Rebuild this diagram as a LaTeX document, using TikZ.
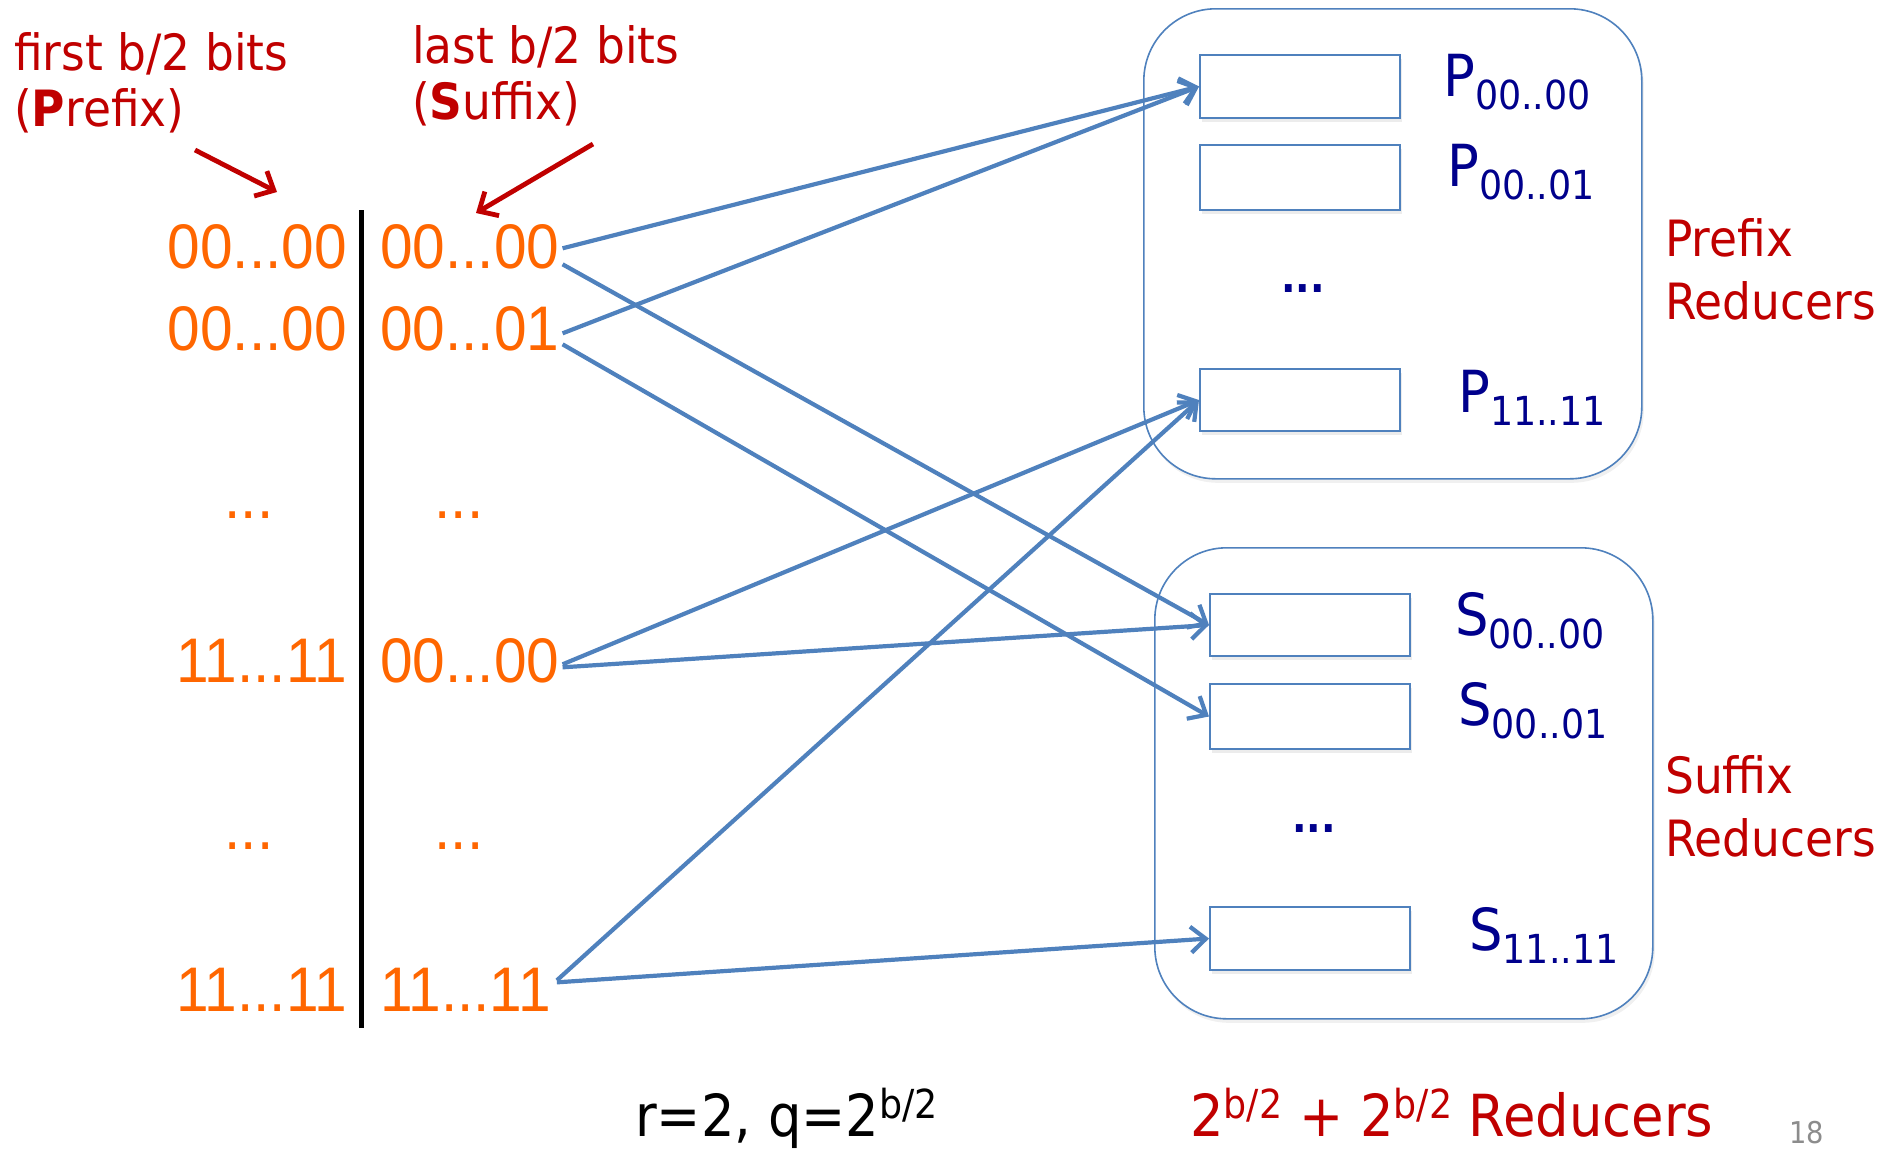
\documentclass[tikz,border=0pt]{standalone}
\usepackage{fontspec}
\setmainfont{DejaVu Sans}
\newfontfamily\bitsfont{Liberation Sans}[FakeStretch=0.93]
\newfontfamily\slidefont{DejaVu Sans}[FakeStretch=0.91]
\usetikzlibrary{arrows.meta,shadows}
\definecolor{bitorange}{HTML}{FF6600}
\definecolor{labelred}{HTML}{C00000}
\definecolor{linkblue}{HTML}{4F81BD}
\definecolor{regnavy}{HTML}{00008C}
\definecolor{pagegray}{HTML}{8C8C8C}
% lowered index of a reducer name, raised exponent
\newcommand\lowidx[1]{\raisebox{-13pt}{\fontsize{40}{42}\selectfont #1}}
\newcommand\upidx[1]{\raisebox{18pt}{\fontsize{40}{42}\selectfont #1}}
\begin{document}
\begin{tikzpicture}[x=1pt,y=-1pt,
  bits/.style={font=\bitsfont\fontsize{63}{70}\selectfont, text=bitorange, inner sep=0pt},
  note/.style={font=\slidefont\fontsize{50}{56}\selectfont, text=labelred, align=left, inner sep=0pt, anchor=north west},
  sidenote/.style={note, font=\slidefont\fontsize{50}{63}\selectfont},
  regname/.style={font=\slidefont\fontsize{58}{60}\selectfont, text=regnavy, inner sep=0pt, anchor=base west},
  regdots/.style={font=\slidefont\bfseries\fontsize{42}{42}\selectfont, text=regnavy, inner sep=0pt, anchor=base},
  group/.style={draw=linkblue, line width=1.6pt, fill=white, rounded corners=72pt, inner sep=0pt, anchor=north west,
    minimum width=498pt, drop shadow={opacity=0.12, shadow xshift=2pt, shadow yshift=-4pt}},
  slot/.style={draw=linkblue, line width=2pt, fill=white, inner sep=0pt, anchor=north west, minimum width=200pt,
    drop shadow={opacity=0.15, shadow xshift=2pt, shadow yshift=-4pt}},
  link/.style={draw=linkblue, line width=4.2pt, -{Straight Barb[length=15pt,width=26pt]}},
  pointer/.style={draw=labelred, line width=4.8pt, -{Straight Barb[length=15pt,width=28pt]}},
  bottomtext/.style={font=\slidefont\fontsize{58}{60}\selectfont, inner sep=0pt, anchor=base west}
]
\useasboundingbox (0,0) rectangle (1885,1149);

% reducer groups
\node[group, minimum height=470pt] (pgrp) at (1143,8) {};
\node[group, minimum height=471pt] (sgrp) at (1154,547) {};

% reducer slots
\node[slot, minimum height=63pt] (pa) at (1199,54) {};
\node[slot, minimum height=65pt] (pb) at (1199,144) {};
\node[slot, minimum height=62pt] (pz) at (1199,368) {};
\node[slot, minimum height=62pt] (sa) at (1209,593) {};
\node[slot, minimum height=65pt] (sb) at (1209,683) {};
\node[slot, minimum height=63pt] (sz) at (1209,906) {};

% reducer names
\node[regname] (lpa) at (1443,96) {P\lowidx{00..00}};
\node[regname] (lpb) at (1447,186) {P\lowidx{00..01}};
\node[regname] (lpz) at (1458,412) {P\lowidx{11..11}};
\node[regname] (lsa) at (1455,635) {S\lowidx{00..00}};
\node[regname] (lsb) at (1458,725) {S\lowidx{00..01}};
\node[regname] (lsz) at (1469,950) {S\lowidx{11..11}};
\node[regdots] (pdots) at (1303,292) {...};
\node[regdots] (sdots) at (1314,832) {...};

% group captions
\node[sidenote] (pcap) at (1665,218) {Prefix\\Reducers};
\node[sidenote] (scap) at (1665,755) {Suffix\\Reducers};

% key halves
\node[bits, anchor=base east] (a1) at (347,268) {00...00};
\node[bits, anchor=base east] (a2) at (347,350) {00...00};
\node[bits, anchor=base] (ad1) at (249,518) {...};
\node[bits, anchor=base east] (a3) at (347,682) {11...11};
\node[bits, anchor=base] (ad2) at (249,849) {...};
\node[bits, anchor=base east] (a4) at (347,1011) {11...11};

\node[bits, anchor=base west] (b1) at (380,268) {00...00};
\node[bits, anchor=base west] (b2) at (380,350) {00...01};
\node[bits, anchor=base] (bd1) at (459,518) {...};
\node[bits, anchor=base west] (b3) at (380,682) {00...00};
\node[bits, anchor=base] (bd2) at (459,849) {...};
\node[bits, anchor=base west] (b4) at (380,1011) {11...11};

% divider between prefix and suffix
\coordinate (divtop) at (361,210);
\coordinate (divbot) at (361,1028);
\draw[line width=5pt] (divtop) -- (divbot);

% annotations
\node[note] (nfirst) at (14,32) {first b/2 bits\\(\textbf{P}refix)};
\node[note] (nlast) at (412,25) {last b/2 bits\\(\textbf{S}uffix)};
\coordinate (ptrAfrom) at (195,150);
\coordinate (ptrAto) at (277,192);
\coordinate (ptrBfrom) at (593,144);
\coordinate (ptrBto) at (476,213);
\draw[pointer] (ptrAfrom) -- (ptrAto);
\draw[pointer] (ptrBfrom) -- (ptrBto);

% each key goes to one prefix and one suffix reducer
\draw[link] ([xshift=3pt,yshift=-2pt]b1.east) -- (pa.west);
\draw[link] ([xshift=3pt,yshift=-18pt]b1.east) -- (sa.west);
\draw[link] ([xshift=3pt,yshift=-5pt]b2.east) -- (pa.west);
\draw[link] ([xshift=3pt,yshift=-16pt]b2.east) -- (sb.west);
\draw[link] ([xshift=3pt,yshift=-4pt]b3.east) -- (pz.west);
\draw[link] ([xshift=3pt,yshift=-7pt]b3.east) -- (sa.west);
\draw[link] ([xshift=6pt,yshift=9pt]b4.east) -- (pz.west);
\draw[link] ([xshift=6pt,yshift=7pt]b4.east) -- (sz.west);

% footer
\node[bottomtext] (params) at (635,1136) {r=2, q=2\upidx{b/2}};
\node[bottomtext, text=labelred] (total) at (1190,1136) {2\upidx{b/2} + 2\upidx{b/2} Reducers};
\node[font=\slidefont\fontsize{30}{30}\selectfont, text=pagegray, inner sep=0pt, anchor=base west] (pgno) at (1789,1143) {18};
\end{tikzpicture}
\end{document}
